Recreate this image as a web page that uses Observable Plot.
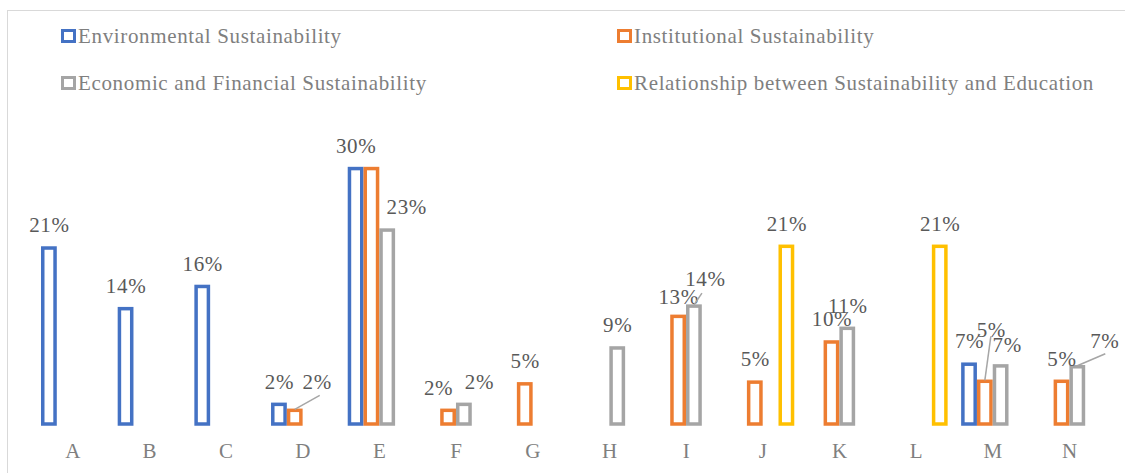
<!DOCTYPE html>
<html><head><meta charset="utf-8">
<script src="https://cdn.jsdelivr.net/npm/d3@7"></script>
<script src="https://cdn.jsdelivr.net/npm/@observablehq/plot@0.6"></script>
<style>
body{margin:0;background:#fff;}
#wrap{position:relative;width:1125px;height:473px;overflow:hidden;font-family:"Liberation Serif","Times New Roman",serif;}
#frame{position:absolute;left:7px;top:10px;width:1300px;height:700px;border:1.5px solid #d9d9d9;}
.leg{position:absolute;display:flex;align-items:center;height:22px;font-size:21px;letter-spacing:0.65px;color:#7f7f7f;white-space:nowrap;line-height:1;}
.leg i{display:inline-block;box-sizing:border-box;width:15px;height:14px;border:3.5px solid;background:#fff;margin-right:2px;}
#chart{position:absolute;left:0;top:110px;}
</style></head><body>
<div id="wrap"><div id="frame"></div><div id="legend"></div><div id="chart"></div></div>
<script>
// ---- data ----
const categories = ["A","B","C","D","E","F","G","H","I","J","K","L","M","N"];
const seriesNames = ["Environmental Sustainability","Institutional Sustainability","Economic and Financial Sustainability","Relationship between Sustainability and Education"];
const seriesColors = ["#4472C4","#ED7D31","#A5A5A5","#FFC000"];
// values in percent (null = no bar)
const environmental = [20.6, 13.5, 16.1, 2.3, 29.9, null, null, null, null, null, null, null, 7.0, null];
const institutional = [null, null, null, 1.6, 29.9, 1.6, 4.7, null, 12.6, 4.9, 9.6, null, 5.0, 5.0];
const economic      = [null, null, null, null, 22.7, 2.3, null, 8.9, 13.8, null, 11.2, null, 6.8, 6.7];
const relationship  = [null, null, null, null, null, null, null, null, null, 20.8, null, 20.8, null, null];
const seriesValues = [environmental, institutional, economic, relationship];

// ---- legend (HTML) ----
const legendPos = [[61,25],[617,25],[61,72],[617,72]];
const legend = document.getElementById("legend");
seriesNames.forEach((name,s)=>{
  const d = document.createElement("div");
  d.className = "leg";
  d.style.left = legendPos[s][0]+"px"; d.style.top = legendPos[s][1]+"px";
  d.innerHTML = `<i style="border-color:${seriesColors[s]}"></i><span>${name}</span>`;
  legend.appendChild(d);
});

// ---- table ----
const rows = [];
categories.forEach((c,i)=>seriesValues.forEach((arr,s)=>{
  if (arr[i] != null) rows.push({cat:c, series:seriesNames[s], value:arr[i], key:c+s});
}));

// label layout (pixel nudges of moved labels, like Excel's dragged labels)
const labelNudge = {D1:[22,-6], E2:[19,0], F1:[-10,0], F2:[15,0], I1:[0,3], I2:[11,-4], M1:[6,-29], M2:[6,2], N2:[27,-3]};
const hiddenLabels = new Set(["E1"]);
const leaderTo = {D1:[25,-14], I2:[8,-12], M1:[6,-44], N2:[28,-12]};

const fmt = d => Math.round(d.value) + "%";
const textOpts = (dx,dy) => ({fx:"cat", x:"series", y:"value", text:fmt, dx, dy:-23+dy, fill:"#595959", fontSize:21});
const labelMarks = [];
labelMarks.push(Plot.text(rows.filter(d=>!hiddenLabels.has(d.key) && !labelNudge[d.key]), textOpts(0,0)));
Object.entries(labelNudge).forEach(([k,[dx,dy]])=>{
  labelMarks.push(Plot.text(rows.filter(d=>d.key===k), textOpts(dx,dy)));
});

const mL = 41, mR = 24;
const plot = Plot.plot({
  width:1125, height:363,
  marginTop:15, marginBottom:49, marginLeft:mL, marginRight:mR,
  style:{fontFamily:'"Liberation Serif","Times New Roman",serif', fontSize:"21px", color:"#7f7f7f", background:"transparent", letterSpacing:"0.65px"},
  fx:{domain:categories, paddingInner:0.176, paddingOuter:0, round:false, label:null, tickSize:0, tickPadding:19},
  x:{domain:seriesNames, padding:0, round:false, axis:null},
  y:{domain:[0,35], axis:null},
  color:{domain:seriesNames, range:seriesColors},
  marks:[
    Plot.barY(rows, {fx:"cat", x:"series", y:"value", stroke:"series", fill:"white", strokeWidth:3.5, insetLeft:1.75, insetRight:1.75}),
    ...labelMarks
  ]
});
document.getElementById("chart").appendChild(plot);

// leader lines, positioned through the plot's own scales
const fxS = plot.scale("fx"), xS = plot.scale("x"), yS = plot.scale("y");
const g = d3.select(plot).append("g").attr("stroke","#a6a6a6").attr("stroke-width",1.5);
rows.filter(d=>leaderTo[d.key]).forEach(d=>{
  const x0 = fxS.apply(d.cat) - mL + xS.apply(d.series) + xS.bandwidth/2;
  const y0 = yS.apply(d.value) - 1;
  const [ex,ey] = leaderTo[d.key];
  g.append("line").attr("x1",x0).attr("y1",y0).attr("x2",x0+ex).attr("y2",y0+ey);
});
</script>
</body></html>
